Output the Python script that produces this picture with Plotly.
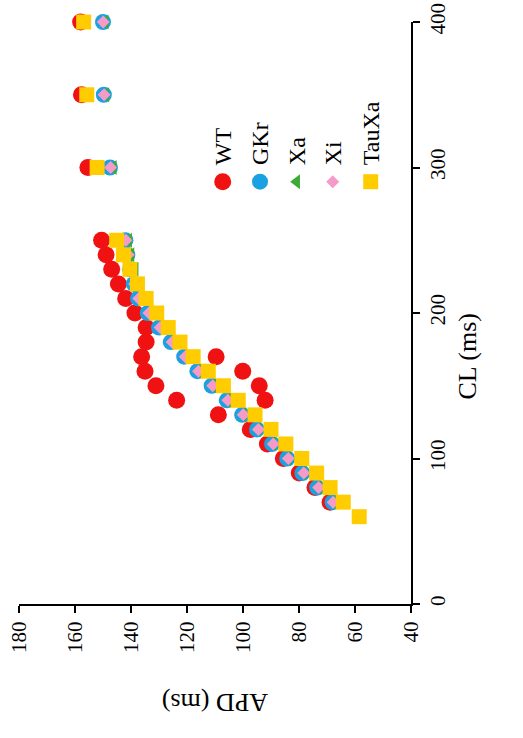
import plotly.graph_objects as go

# ---------------- data ----------------
series_names = ["WT", "GKr", "Xa", "Xi", "TauXa"]

cl_wt = [70, 80, 90, 100, 110, 120, 130, 140, 140, 150, 150, 160, 160, 170, 170,
         180, 190, 200, 210, 220, 230, 240, 250, 300, 350, 400]
apd_wt = [68.9, 74.3, 79.9, 85.6, 91.3, 97.4, 108.8, 123.7, 92.1, 131.1, 94.2, 135.0, 100.1,
          136.2, 109.6, 134.6, 134.6, 138.6, 141.9, 144.5, 146.9, 148.9, 150.5, 155.4, 157.7, 158.0]

cl_common = [70, 80, 90, 100, 110, 120, 130, 140, 150, 160, 170, 180, 190, 200, 210,
             220, 230, 240, 250, 300, 350, 400]
apd_gkr = [68.0, 73.5, 78.8, 84.2, 89.6, 95.0, 100.3, 105.8, 111.2, 116.3, 121.0, 125.8,
           130.0, 134.0, 137.5, 139.0, 140.3, 141.3, 142.0, 147.5, 149.7, 150.0]
apd_xa = [67.7, 73.2, 78.5, 83.9, 89.3, 94.7, 100.0, 105.5, 110.9, 116.0, 120.7, 125.4,
          129.5, 133.3, 136.5, 137.6, 138.5, 140.0, 140.8, 146.3, 149.0, 149.2]
apd_xi = [67.8, 73.0, 78.3, 83.8, 89.2, 94.5, 99.9, 105.4, 110.8, 115.9, 120.6, 125.3,
          129.6, 133.6, 137.2, 138.7, 140.0, 141.0, 141.8, 147.3, 149.6, 149.9]

cl_tauxa = [60, 70, 80, 90, 100, 110, 120, 130, 140, 150, 160, 170, 180, 190, 200, 210,
            220, 230, 240, 250, 300, 350, 400]
apd_tauxa = [58.5, 64.2, 68.9, 73.7, 79.0, 84.7, 90.0, 95.7, 101.7, 107.0, 112.4, 117.8,
             122.5, 126.7, 130.8, 134.6, 137.7, 140.4, 142.7, 145.1, 152.1, 155.8, 156.9]

apd_ticks = [40, 60, 80, 100, 120, 140, 160, 180]
cl_ticks = [0, 100, 200, 300, 400]

# ---------------- styles ----------------
FONT = "Liberation Serif, Times New Roman, serif"
styles = {
    "WT": dict(color="#F01212", symbol="circle", size=17),
    "GKr": dict(color="#1BA1E2", symbol="circle", size=16),
    "Xa": dict(color="#3DAA35", symbol="triangle-left", size=13),
    "Xi": dict(color="#F59AC9", symbol="diamond", size=10),
    "TauXa": dict(color="#FFCC00", symbol="square", size=15),
}
series = {
    "WT": (apd_wt, cl_wt),
    "GKr": (apd_gkr, cl_common),
    "Xa": (apd_xa, cl_common),
    "Xi": (apd_xi, cl_common),
    "TauXa": (apd_tauxa, cl_tauxa),
}

fig = go.Figure()
for name in series_names:
    xs, ys = series[name]
    st = styles[name]
    fig.add_trace(go.Scatter(
        x=xs, y=ys, mode="markers", name=name, showlegend=False, cliponaxis=False,
        marker=dict(color=st["color"], symbol=st["symbol"], size=st["size"],
                    line=dict(width=0)),
        xaxis="x", yaxis="y",
    ))

# rotated legend drawn on an overlay axis in fractional plot coordinates
legend_x = [0.5196, 0.6148, 0.7084, 0.8003, 0.8972]
legend_marker_y = 0.7256
legend_text_y = 0.750
for name, lx in zip(series_names, legend_x):
    st = styles[name]
    fig.add_trace(go.Scatter(
        x=[lx], y=[legend_marker_y], mode="markers", showlegend=False,
        marker=dict(color=st["color"], symbol=st["symbol"], size=st["size"], line=dict(width=0)),
        xaxis="x2", yaxis="y2", hoverinfo="skip",
    ))
    fig.add_annotation(
        x=lx, y=legend_text_y, xref="x2", yref="y2", text=name, showarrow=False,
        textangle=-90, xanchor="center", yanchor="bottom",
        font=dict(family=FONT, size=24, color="black"),
    )

fig.add_annotation(
    x=0.5, y=-0.168, xref="paper", yref="paper", text="APD (ms)", showarrow=False,
    textangle=180, xanchor="center", yanchor="middle",
    font=dict(family=FONT, size=26, color="black"),
)
fig.add_annotation(
    x=1.145, y=0.425, xref="paper", yref="paper", text="CL (ms)", showarrow=False,
    textangle=-90, xanchor="center", yanchor="middle",
    font=dict(family=FONT, size=26, color="black"),
)

fig.update_layout(
    width=523, height=738,
    margin=dict(l=19, r=112, t=22, b=134, autoexpand=False),
    paper_bgcolor="white", plot_bgcolor="white",
    font=dict(family=FONT, size=21, color="black"),
    xaxis=dict(
        range=[180, 40], tickvals=apd_ticks, ticktext=[str(v) for v in apd_ticks],
        showline=True, linecolor="black", linewidth=2, ticks="outside", ticklen=7,
        tickwidth=2, tickcolor="black", tickangle=-90, showgrid=False, zeroline=False,
        side="bottom", tickfont=dict(family=FONT, size=21), automargin=False,
        ticklabeloverflow="allow",
    ),
    yaxis=dict(
        range=[0, 400], tickvals=cl_ticks, ticktext=[str(v) for v in cl_ticks],
        showline=True, linecolor="black", linewidth=2, ticks="outside", ticklen=7,
        tickwidth=2, tickcolor="black", tickangle=-90, showgrid=False, zeroline=False,
        side="right", tickfont=dict(family=FONT, size=21), automargin=False,
        ticklabeloverflow="allow",
    ),
    xaxis2=dict(range=[0, 1], overlaying="x", visible=False, fixedrange=True),
    yaxis2=dict(range=[0, 1], overlaying="y", visible=False, fixedrange=True),
)

fig.write_html(
    "out.html",
    config={"displayModeBar": False},
    post_script="document.body.style.margin='0';document.body.style.overflow='hidden';",
)
